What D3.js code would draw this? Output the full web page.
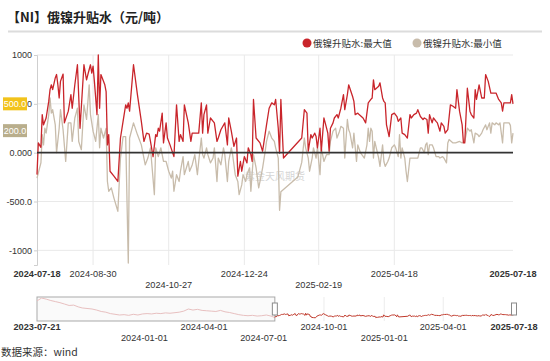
<!DOCTYPE html>
<html><head><meta charset="utf-8">
<script src="https://cdn.jsdelivr.net/npm/d3@7"></script>
<style>body{margin:0;background:#fff}svg{display:block}</style>
</head><body><svg id="c" width="550" height="361"></svg>
<script>
const title = "【NI】俄镍升贴水（元/吨）";
const seriesNames = ["俄镍升贴水:最大值", "俄镍升贴水:最小值"];
const sourceText = "数据来源：wind";
const watermarkText = "紫金天风期货";

const maxDates = [
"2024-07-18","2024-07-19","2024-07-21","2024-07-22","2024-07-23","2024-07-25","2024-07-27","2024-07-28","2024-07-29","2024-07-30",
"2024-08-01","2024-08-02","2024-08-03","2024-08-04","2024-08-05","2024-08-07","2024-08-08","2024-08-11","2024-08-13","2024-08-14","2024-08-16","2024-08-18","2024-08-20","2024-08-23","2024-08-25","2024-08-26","2024-08-28","2024-08-29","2024-08-30","2024-08-31",
"2024-09-02","2024-09-03","2024-09-04","2024-09-05","2024-09-08","2024-09-09","2024-09-10","2024-09-11","2024-09-12","2024-09-15","2024-09-18","2024-09-20","2024-09-22","2024-09-24","2024-09-25","2024-09-26","2024-09-27","2024-09-30",
"2024-10-03","2024-10-06","2024-10-08","2024-10-10","2024-10-12","2024-10-13","2024-10-15","2024-10-17","2024-10-18","2024-10-19","2024-10-20","2024-10-22","2024-10-23","2024-10-25","2024-10-26","2024-10-28","2024-10-31",
"2024-11-02","2024-11-04","2024-11-05","2024-11-07","2024-11-08","2024-11-11","2024-11-13","2024-11-14","2024-11-19","2024-11-21","2024-11-22","2024-11-23","2024-11-25","2024-11-26","2024-11-28",
"2024-12-01","2024-12-03","2024-12-04","2024-12-06","2024-12-09","2024-12-11","2024-12-12","2024-12-14","2024-12-16","2024-12-18","2024-12-19","2024-12-21","2024-12-22","2024-12-24","2024-12-26","2024-12-27","2024-12-29","2024-12-30","2024-12-31",
"2025-01-02","2025-01-05","2025-01-07","2025-01-10","2025-01-12","2025-01-14","2025-01-16","2025-01-17","2025-01-19","2025-01-20","2025-01-21","2025-01-23",
"2025-02-06","2025-02-08","2025-02-10","2025-02-11","2025-02-13","2025-02-14","2025-02-16","2025-02-17","2025-02-18","2025-02-20","2025-02-21","2025-02-23","2025-02-24","2025-02-26","2025-02-27","2025-02-28",
"2025-03-02","2025-03-03","2025-03-05","2025-03-06","2025-03-08","2025-03-10","2025-03-11","2025-03-13","2025-03-14","2025-03-17","2025-03-18","2025-03-19","2025-03-21","2025-03-22","2025-03-25","2025-03-27","2025-03-29","2025-03-31",
"2025-04-01","2025-04-02","2025-04-03","2025-04-06","2025-04-07","2025-04-09","2025-04-10","2025-04-11","2025-04-12","2025-04-14","2025-04-16","2025-04-18","2025-04-20","2025-04-21","2025-04-23","2025-04-24","2025-04-26","2025-04-28","2025-04-30",
"2025-05-01","2025-05-03","2025-05-05","2025-05-06","2025-05-08","2025-05-10","2025-05-11","2025-05-13","2025-05-14","2025-05-15","2025-05-17","2025-05-18","2025-05-20","2025-05-21","2025-05-23","2025-05-24","2025-05-26","2025-05-27","2025-05-29","2025-05-31",
"2025-06-02","2025-06-04","2025-06-05","2025-06-07","2025-06-09","2025-06-10","2025-06-11","2025-06-13","2025-06-15","2025-06-16","2025-06-18","2025-06-19","2025-06-20","2025-06-22","2025-06-24","2025-06-26","2025-06-27","2025-06-29",
"2025-07-01","2025-07-03","2025-07-05","2025-07-07","2025-07-09","2025-07-10","2025-07-11","2025-07-14","2025-07-16","2025-07-17","2025-07-18"
];
const maxValues = [
-225,100,55,390,285,355,525,645,695,645,
765,800,695,560,730,805,305,425,595,455,695,900,250,900,745,800,900,815,885,730,
390,1000,455,800,695,625,80,185,-190,-240,-295,150,320,490,455,510,425,900,
595,320,115,200,190,115,-40,185,165,250,220,405,100,305,150,80,-40,
490,115,185,115,490,305,115,200,200,510,200,390,490,200,355,
305,115,150,235,305,80,355,220,65,150,-240,-90,-190,-40,-105,50,-20,-90,545,
150,100,15,285,455,510,490,545,250,-5,545,-55,
150,440,405,15,185,150,200,165,50,250,15,355,305,200,15,250,
305,355,390,355,455,595,440,595,695,575,525,390,405,390,355,305,510,545,
560,745,645,680,715,560,525,510,285,165,390,405,370,320,355,200,185,150,390,
355,390,405,440,370,340,355,340,200,390,305,355,320,305,220,305,270,200,235,490,
475,455,645,425,285,100,100,660,425,390,355,645,545,695,560,560,800,730,
610,610,610,545,510,425,510,510,510,595,500
];

const minDates = [
"2024-07-18","2024-07-21","2024-07-22","2024-07-23","2024-07-24","2024-07-25","2024-07-27","2024-07-28","2024-07-29","2024-07-30",
"2024-08-01","2024-08-02","2024-08-04","2024-08-05","2024-08-07","2024-08-09","2024-08-11","2024-08-13","2024-08-14","2024-08-16","2024-08-18","2024-08-19","2024-08-21","2024-08-23","2024-08-25","2024-08-27","2024-08-28","2024-08-30",
"2024-09-01","2024-09-03","2024-09-04","2024-09-05","2024-09-07","2024-09-09","2024-09-10","2024-09-11","2024-09-13","2024-09-15","2024-09-18","2024-09-20","2024-09-22","2024-09-24","2024-09-26","2024-09-27","2024-09-30",
"2024-10-03","2024-10-06","2024-10-09","2024-10-11","2024-10-13","2024-10-16","2024-10-17","2024-10-19","2024-10-21","2024-10-23","2024-10-25","2024-10-27","2024-10-29","2024-10-30","2024-10-31",
"2024-11-02","2024-11-04","2024-11-05","2024-11-07","2024-11-08","2024-11-11","2024-11-12","2024-11-14","2024-11-16","2024-11-18","2024-11-19","2024-11-21","2024-11-22","2024-11-23","2024-11-25","2024-11-26","2024-11-28","2024-11-30",
"2024-12-01","2024-12-03","2024-12-04","2024-12-06","2024-12-08","2024-12-09","2024-12-11","2024-12-12","2024-12-14","2024-12-15","2024-12-17","2024-12-19","2024-12-20","2024-12-22","2024-12-23","2024-12-25","2024-12-26","2024-12-28","2024-12-29","2024-12-31",
"2025-01-02","2025-01-04","2025-01-05","2025-01-07","2025-01-09","2025-01-10","2025-01-12","2025-01-14","2025-01-16","2025-01-17","2025-01-19","2025-01-20","2025-01-21",
"2025-02-03","2025-02-06","2025-02-08","2025-02-09","2025-02-11","2025-02-12","2025-02-14","2025-02-15","2025-02-17","2025-02-18","2025-02-20","2025-02-21","2025-02-23","2025-02-25","2025-02-27","2025-02-28",
"2025-03-02","2025-03-04","2025-03-05","2025-03-07","2025-03-08","2025-03-10","2025-03-11","2025-03-13","2025-03-14","2025-03-15","2025-03-17","2025-03-18","2025-03-20","2025-03-21","2025-03-23","2025-03-26","2025-03-28","2025-03-29","2025-03-30","2025-03-31",
"2025-04-01","2025-04-02","2025-04-03","2025-04-06","2025-04-07","2025-04-09","2025-04-10","2025-04-11","2025-04-13","2025-04-14","2025-04-16","2025-04-18","2025-04-19","2025-04-21","2025-04-22","2025-04-23","2025-04-24","2025-04-26","2025-04-27","2025-04-28","2025-04-30",
"2025-05-01","2025-05-04","2025-05-06","2025-05-08","2025-05-09","2025-05-11","2025-05-12","2025-05-13","2025-05-14","2025-05-15","2025-05-17","2025-05-18","2025-05-20","2025-05-22","2025-05-23","2025-05-25","2025-05-26","2025-05-28","2025-05-29","2025-05-30",
"2025-06-02","2025-06-04","2025-06-07","2025-06-09","2025-06-11","2025-06-13","2025-06-15","2025-06-16","2025-06-18","2025-06-19","2025-06-21","2025-06-22","2025-06-24","2025-06-25","2025-06-27","2025-06-28","2025-06-30",
"2025-07-01","2025-07-02","2025-07-04","2025-07-05","2025-07-07","2025-07-08","2025-07-10","2025-07-11","2025-07-14","2025-07-15","2025-07-16","2025-07-17","2025-07-18"
];
const minValues = [
-260,-105,185,80,250,200,390,560,405,440,
285,0,250,440,235,-90,305,305,115,355,455,115,30,490,340,695,390,220,
115,390,50,250,150,250,-295,-395,-360,-465,-600,-55,165,165,-1130,150,305,
185,80,-125,-55,50,-430,50,-40,50,-90,-90,-190,-260,-190,-395,
-225,-295,-190,-40,-225,-90,-190,-125,-20,-225,-90,150,-20,-55,50,-20,-105,-55,
50,-295,-55,-125,50,-20,-295,-90,50,-20,-225,-295,-430,-330,-225,-295,-225,-155,-395,-20,
-155,-360,-295,-155,15,115,220,150,115,50,-55,-590,-400,
-250,-100,150,50,-55,-190,-55,50,-55,50,-225,50,-90,-20,-20,115,
220,250,150,220,270,250,-55,340,235,200,50,200,-90,80,0,-55,80,250,115,250,
220,-55,115,-55,-140,80,-90,-140,-90,-55,50,80,50,-40,185,-55,50,-55,-190,-295,-55,
-55,-55,-55,50,50,0,80,100,-20,80,80,50,-40,-40,-55,-40,-55,-105,100,135,
100,100,115,100,115,250,220,235,100,200,185,165,200,235,285,235,305,
200,305,285,305,285,305,100,305,305,305,280,100,200
];

// navigator (earlier history of the max series)
const navDates = ["2023-07-21","2023-07-28","2023-08-04","2023-08-11","2023-08-18","2023-08-25","2023-09-01","2023-09-08","2023-09-15","2023-09-22","2023-09-28","2023-10-13","2023-10-20","2023-10-27","2023-11-03","2023-11-10","2023-11-17","2023-11-24","2023-12-01","2023-12-08","2023-12-15","2023-12-22","2023-12-29","2024-01-05","2024-01-12","2024-01-19","2024-01-26","2024-02-02","2024-02-09","2024-02-23","2024-03-01","2024-03-08","2024-03-15","2024-03-22","2024-03-29","2024-04-05","2024-04-12","2024-04-19","2024-04-26","2024-05-03","2024-05-10","2024-05-17","2024-05-24","2024-05-31","2024-06-07","2024-06-14","2024-06-21","2024-06-28","2024-07-05","2024-07-12"];
const navValues = [4500,5300,5000,4600,4300,4000,3600,3200,3300,2800,2500,2200,1900,1500,1300,900,700,500,600,400,700,500,800,900,800,1000,900,1100,1000,1300,1600,2200,1900,2100,1800,1700,1600,1500,1800,1400,1200,900,600,400,300,400,200,300,500,200];

const yTickValues = [-1000, -500, 0, 500, 1000];
const yTickLabels = ["-1000", "-500.0", "0.000", "500.0", "1000"];
const xTickDates = ["2024-07-18","2024-08-30","2024-10-27","2024-12-24","2025-02-19","2025-04-18","2025-07-18"];
const navTickDates = ["2023-07-21","2024-01-01","2024-04-01","2024-07-01","2024-10-01","2025-01-01","2025-04-01","2025-07-18"];
const selectionRange = ["2024-07-18","2025-07-18"];
const lastLabels = ["500.0", "200.0"];

const parse = d3.timeParse("%Y-%m-%d");
const NUM = "'Liberation Sans', Arial, sans-serif";
const CJK = "'Noto Sans CJK SC', sans-serif";
const RED = "#c9252b", TAN = "#c8bcab";

const maxData = maxDates.map((d, i) => ({date: parse(d), value: maxValues[i]})).filter(d => d.value !== undefined);
const minData = minDates.map((d, i) => ({date: parse(d), value: minValues[i]})).filter(d => d.value !== undefined);
const navData = navDates.map((d, i) => ({date: parse(d), value: navValues[i]}));

const svg = d3.select("#c");
const L = 37, R = 513, T = 55, B = 265;

// title
svg.append("text").attr("x", 7).attr("y", 22).text(title)
  .attr("font-family", CJK).attr("font-weight", "bold").attr("font-size", 13).attr("fill", "#222");
svg.append("line").attr("x1", 8).attr("x2", 542).attr("y1", 31.5).attr("y2", 31.5)
  .attr("stroke", "#dcdcdc").attr("stroke-width", 2);

// legend
const legX = [307, 417];
[RED, TAN].forEach((c, i) => {
  svg.append("circle").attr("cx", legX[i]).attr("cy", 43).attr("r", 4.5).attr("fill", c);
  svg.append("text").attr("x", legX[i] + 6).attr("y", 46.5).text(seriesNames[i])
    .attr("font-family", CJK).attr("font-size", 9.5).attr("fill", "#333");
});

const x = d3.scaleTime().domain([parse(xTickDates[0]), parse(xTickDates[xTickDates.length - 1])]).range([L, R]);
const y = d3.scaleLinear().domain([-1150, 1000]).range([B, T]);

// grid
svg.append("g").selectAll("line").data(yTickValues.filter(v => v !== 0)).join("line")
  .attr("x1", L).attr("x2", R).attr("y1", d => y(d)).attr("y2", d => y(d))
  .attr("stroke", "#e9e9e9").attr("stroke-width", 1);
svg.append("g").selectAll("line").data(xTickDates.slice(1, -1)).join("line")
  .attr("x1", d => x(parse(d))).attr("x2", d => x(parse(d))).attr("y1", T).attr("y2", B)
  .attr("stroke", "#e9e9e9").attr("stroke-width", 1);

// y axis
const yAxis = svg.append("g").attr("transform", `translate(${L},0)`)
  .call(d3.axisLeft(y).tickValues(yTickValues).tickSize(3).tickPadding(2)
    .tickFormat((d, i) => yTickLabels[i]));
yAxis.select(".domain").attr("stroke", "#cfcfcf");
yAxis.selectAll(".tick line").attr("stroke", "#cfcfcf");
yAxis.selectAll("text").attr("font-family", NUM).attr("font-size", 9).attr("fill", "#333");

// watermark
svg.append("text").attr("x", 245).attr("y", 180).text(watermarkText)
  .attr("font-family", CJK).attr("font-size", 10).attr("fill", "#d6d6d6");

// lines
const line = d3.line().x(d => x(d.date)).y(d => y(d.value));
svg.append("path").datum(minData).attr("d", line).attr("fill", "none")
  .attr("stroke", TAN).attr("stroke-width", 1.3).attr("stroke-linejoin", "round");
svg.append("path").datum(maxData).attr("d", line).attr("fill", "none")
  .attr("stroke", RED).attr("stroke-width", 1.3).attr("stroke-linejoin", "round");

// zero line
svg.append("line").attr("x1", L).attr("x2", R).attr("y1", y(0)).attr("y2", y(0))
  .attr("stroke", "#333").attr("stroke-width", 1.6);

// last value labels
const lastVals = [maxData[maxData.length - 1].value, minData[minData.length - 1].value];
const labelBg = ["#f2c31b", "#b9ae8c"];
lastVals.forEach((v, i) => {
  const yy = y(v) + (i === 1 ? -2.5 : 0);
  svg.append("rect").attr("x", 3).attr("y", yy - 6.5).attr("width", 24).attr("height", 13).attr("fill", labelBg[i]);
  svg.append("text").attr("x", 15).attr("y", yy + 3.3).attr("text-anchor", "middle").text(lastLabels[i])
    .attr("font-family", NUM).attr("font-size", 9).attr("fill", "#fff");
});

// x axis labels
const xRows = [0, 0, 1, 0, 1, 0, 0];
svg.append("g").selectAll("text").data(xTickDates).join("text")
  .attr("x", d => x(parse(d))).attr("y", (d, i) => xRows[i] ? 287.5 : 276.5)
  .attr("text-anchor", "middle").text(d => d)
  .attr("font-family", NUM).attr("font-size", 9.2).attr("fill", "#333")
  .attr("font-weight", (d, i) => (i === 0 || i === xTickDates.length - 1) ? "bold" : "normal");

// navigator
const NT = 297, NB = 321;
const nx = d3.scaleTime().domain([parse(navTickDates[0]), parse(navTickDates[navTickDates.length - 1])]).range([L, 514]);
const ny = d3.scaleLinear().domain([-1200, 5600]).range([NB, NT]);
const selX0 = nx(parse(selectionRange[0])), selX1 = nx(parse(selectionRange[1]));

svg.append("g").selectAll("line").data(navTickDates.slice(1, -1)).join("line")
  .attr("x1", d => nx(parse(d))).attr("x2", d => nx(parse(d))).attr("y1", NT).attr("y2", NB)
  .attr("stroke", "#ececec");
svg.append("rect").attr("x", L).attr("y", NT).attr("width", selX0 - L).attr("height", NB - NT)
  .attr("fill", "#fafafa").attr("stroke", "#a9a9a9").attr("stroke-width", 1);
const nline = d3.line().x(d => nx(d.date)).y(d => ny(d.value));
svg.append("path").datum(navData.concat([maxData[0]])).attr("d", nline).attr("fill", "none")
  .attr("stroke", "#e8c0c0").attr("stroke-width", 1);
svg.append("path").datum(maxData).attr("d", nline).attr("fill", "none")
  .attr("stroke", "#c0392b").attr("stroke-width", 1);

const navRows = [0, 1, 0, 1, 0, 1, 0, 0];
svg.append("g").selectAll("text").data(navTickDates).join("text")
  .attr("x", d => nx(parse(d))).attr("y", (d, i) => navRows[i] ? 340.5 : 330)
  .attr("text-anchor", "middle").text(d => d)
  .attr("font-family", NUM).attr("font-size", 9.2).attr("fill", "#333")
  .attr("font-weight", (d, i) => (i === 0 || i === navTickDates.length - 1) ? "bold" : "normal");

// handles
[selX0, selX1].forEach(hx => {
  svg.append("rect").attr("x", hx - 2.5).attr("y", 303).attr("width", 5).attr("height", 12)
    .attr("fill", "#fff").attr("stroke", "#8a8a8a").attr("stroke-width", 1);
});

// source
svg.append("text").attr("x", 1).attr("y", 356).text(sourceText)
  .attr("font-family", CJK).attr("font-size", 10.5).attr("fill", "#333");
</script></body></html>
